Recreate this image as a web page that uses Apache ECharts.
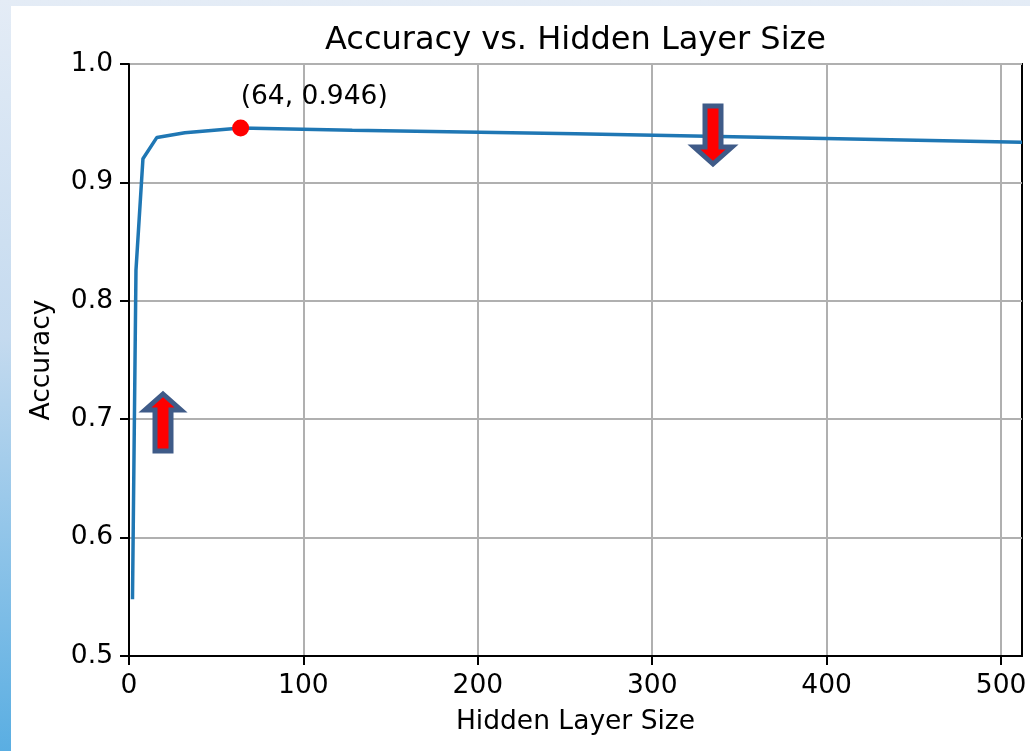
<!DOCTYPE html>
<html lang="en">
<head>
    <meta charset="UTF-8">
    <title>accuracy_vs_hidden</title>
    <script src="https://cdn.jsdelivr.net/npm/echarts@6/dist/echarts.min.js"></script>
    <style>
        html,body{margin:0;padding:0;width:1030px;height:751px;overflow:hidden}
        .page{position:absolute;left:0;top:0;width:1030px;height:751px;background:linear-gradient(to bottom,#e4ecf6 0%,#c4daef 45%,#5aaee2 100%)}
        .sheet{position:absolute;left:11px;top:6px;width:1019px;height:745px;background:#fff}
        #main{position:absolute;left:0;top:0;width:1151px;height:751px}
    </style>
</head>
<body>
    <div class="page"><div class="sheet"></div></div>
    <div id="main"></div>
    <script>
        // hidden layer sizes and measured accuracy
        var sizes = [2, 4, 8, 16, 32, 64, 128, 256, 512];
        var accuracy = [0.548, 0.826, 0.920, 0.938, 0.942, 0.946, 0.944, 0.941, 0.934];
        var bestPoint = [64, 0.946];
        var xTicks = [0, 100, 200, 300, 400, 500];

        var font = 'DejaVu Sans';
        var lineData = [];
        for (var i = 0; i < sizes.length; i++) {
            lineData.push([sizes[i], accuracy[i]]);
        }

        var mychart = echarts.init(document.getElementById('main'));
        var option = {
            animation: false,
            textStyle: {fontFamily: font},
            title: {
                text: 'Accuracy vs. Hidden Layer Size',
                left: 'center',
                top: 20,
                textStyle: {fontFamily: font, fontSize: 32, fontWeight: 'normal', color: '#000'}
            },
            grid: {
                left: 129, right: 129, top: 64, bottom: 95,
                show: true, borderColor: '#000', borderWidth: 2
            },
            xAxis: {
                type: 'value',
                min: 0, max: 512, interval: 100,
                name: 'Hidden Layer Size',
                nameLocation: 'middle',
                nameGap: 53,
                nameTextStyle: {fontFamily: font, fontSize: 26.5, color: '#000'},
                axisLine: {lineStyle: {color: '#000', width: 2}},
                axisTick: {length: 9, lineStyle: {color: '#000', width: 2}, customValues: xTicks},
                axisLabel: {fontFamily: font, fontSize: 26.5, color: '#000', margin: 17, customValues: xTicks},
                splitLine: {lineStyle: {color: '#b0b0b0', width: 2}}
            },
            yAxis: {
                type: 'value',
                min: 0.5, max: 1.0, interval: 0.1,
                name: 'Accuracy',
                nameLocation: 'middle',
                nameGap: 73,
                nameTextStyle: {fontFamily: font, fontSize: 26.5, color: '#000'},
                axisLine: {show: true, lineStyle: {color: '#000', width: 2}},
                axisTick: {show: true, length: 9, lineStyle: {color: '#000', width: 2}},
                axisLabel: {
                    fontFamily: font, fontSize: 26.5, color: '#000', margin: 16,
                    formatter: function (v) { return v.toFixed(1); }
                },
                splitLine: {lineStyle: {color: '#b0b0b0', width: 2}}
            },
            series: [
                {
                    name: 'accuracy',
                    type: 'line',
                    data: lineData,
                    showSymbol: false,
                    lineStyle: {color: '#1f77b4', width: 3.5},
                    z: 3
                },
                {
                    name: 'best',
                    type: 'scatter',
                    data: [bestPoint],
                    symbolSize: 17,
                    itemStyle: {color: '#ff0000', opacity: 1},
                    label: {
                        show: true,
                        position: 'top',
                        align: 'left',
                        distance: 9,
                        fontFamily: font, fontSize: 26.5, color: '#000',
                        formatter: function (p) { return '(' + p.value[0] + ', ' + p.value[1] + ')'; }
                    },
                    z: 4
                }
            ],
            graphic: [
                {
                    type: 'polygon', z: 10,
                    shape: {points: [[163, 394], [181, 410], [171, 410], [171, 451], [155, 451], [155, 410], [145, 410]]},
                    style: {fill: '#ff0000', stroke: '#3f5b88', lineWidth: 5, lineJoin: 'miter'}
                },
                {
                    type: 'polygon', z: 10,
                    shape: {points: [[713, 164], [732, 147], [721, 147], [721, 106], [705, 106], [705, 147], [694, 147]]},
                    style: {fill: '#ff0000', stroke: '#3f5b88', lineWidth: 5, lineJoin: 'miter'}
                }
            ]
        };
        mychart.setOption(option);
    </script>
</body>
</html>
